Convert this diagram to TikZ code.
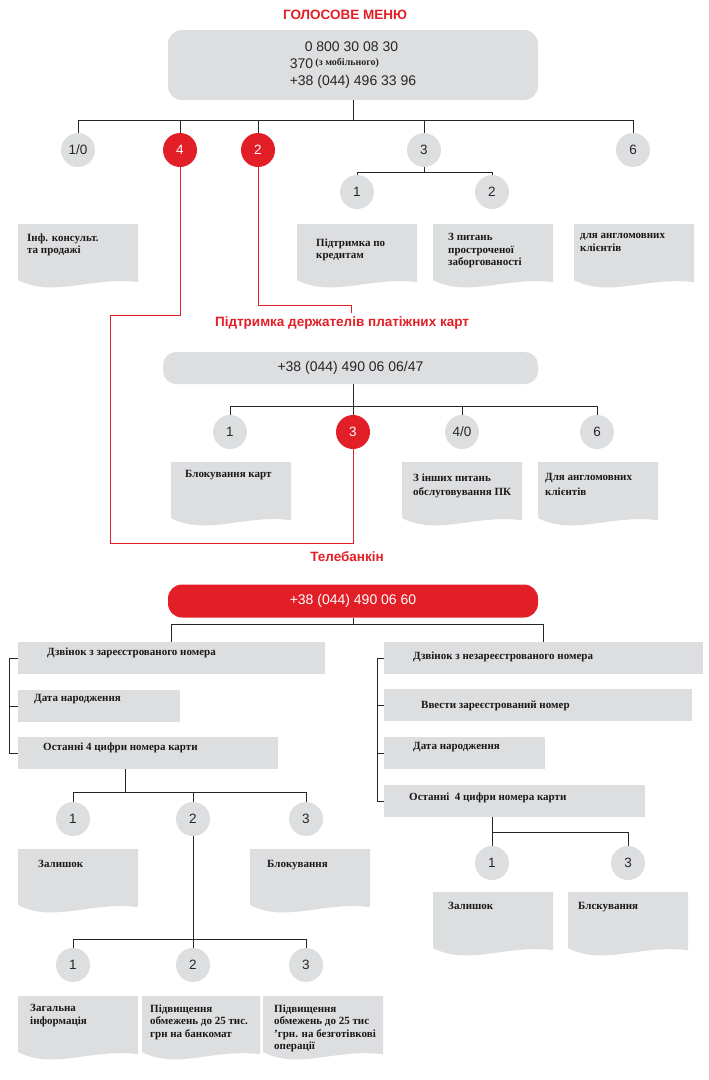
\documentclass[tikz,border=0pt]{standalone}
\usepackage{fontspec}
\setmainfont{Liberation Serif}
\setsansfont{Liberation Sans}
\usepackage{tikz}
\definecolor{tred}{RGB}{226,30,38}
\definecolor{tgray}{RGB}{221,222,224}

\begin{document}
\begin{tikzpicture}[x=1pt, y=-1pt,
 head/.style={font=\sffamily\bfseries\fontsize{13.5}{15}\selectfont, text=tred},
 phone/.style={rounded corners=14pt, fill=tgray, minimum width=370pt, inner sep=0pt, font=\sffamily\fontsize{14}{17}\selectfont, text=black!85},
 circ/.style={circle, fill=tgray, minimum size=34pt, inner sep=0pt, font=\sffamily\fontsize{13.5}{14}\selectfont, text=black!85},
 rcirc/.style={circ, fill=tred, text=white},
 doc/.style={anchor=north west, minimum width=120pt, minimum height=66pt, inner sep=0pt,
  path picture={\fill[tgray] (path picture bounding box.north west) -- (path picture bounding box.north east)
   -- ([yshift=8pt]path picture bounding box.south east)
   .. controls ([xshift=-48pt,yshift=14pt]path picture bounding box.south east) and ([xshift=36pt,yshift=-8pt]path picture bounding box.south west)
   .. ([yshift=10pt]path picture bounding box.south west) -- cycle;}},
 zone/.style={anchor=north west, fill=tgray, minimum height=32pt, inner sep=0pt},
 txt/.style={anchor=north west, align=left, inner sep=0pt, text=black!90, font=\bfseries\fontsize{11}{12.5}\selectfont},
 link/.style={draw=black!85, line width=0.9pt},
 rlink/.style={draw=tred, line width=0.8pt}]
\useasboundingbox (0,0) rectangle (709,1080);

% voice menu
\node[head] (hmenu) at (345,15) {ГОЛОСОВЕ МЕНЮ};
\node[phone, minimum height=70pt, align=left] (menu) at (353,65)
 {\hspace*{15pt}0 800 30 08 30\\370\,\raisebox{3pt}{\rmfamily\bfseries\fontsize{10}{10}\selectfont(з мобільного)}\\+38 (044) 496 33 96};
\coordinate (mbar) at (353,120);
\node[circ] (c10) at (78,150) {1/0};
\node[rcirc] (r4) at (180,150) {4};
\node[rcirc] (r2) at (258,150) {2};
\node[circ] (c3) at (424,150) {3};
\node[circ] (c6) at (633,150) {6};
\coordinate (sbar) at (424,172);
\node[circ] (s1) at (357,192) {1};
\node[circ] (s2) at (492,192) {2};
\draw[link] (menu.south) -- (mbar);
\foreach \c in {c10,r4,r2,c3,c6} \draw[link] (\c.north) |- (mbar);
\draw[link] (c3.south) -- (sbar);
\foreach \c in {s1,s2} \draw[link] (\c.north) |- (sbar);

\node[doc] (d10) at (18,224) {};
\node[txt] at ([shift={(9,9.5)}]d10.north west) {Інф. консульт.\\та продажі};
\node[doc] (ds1) at (297,224) {};
\node[txt] at ([shift={(19,14.5)}]ds1.north west) {Підтримка по\\кредитам};
\node[doc] (ds2) at (433,224) {};
\node[txt] at ([shift={(15,9.5)}]ds2.north west) {З питань\\простроченої\\заборгованості};
\node[doc] (d6) at (574,224) {};
\node[txt] at ([shift={(6,9.5)}]d6.north west) {для англомовних\\клієнтів};

% card holders
\coordinate (rj) at (351,305);
\coordinate (rk) at (110,315);
\coordinate (rl) at (110,543);
\node[head] (hcards) at (342,323) {Підтримка держателів платіжних карт};
\node[phone, minimum width=375pt, minimum height=32pt, rounded corners=13pt] (cards) at (350.5,368) {+38 (044) 490 06 06/47};
\coordinate (cbar) at (353,406);
\node[circ] (p1) at (230,432) {1};
\node[rcirc] (p3) at (353,432) {3};
\node[circ] (p40) at (462,432) {4/0};
\node[circ] (p6) at (597,432) {6};
\draw[link] (cards.south -| p3) -- (p3.north);
\foreach \c in {p1,p40,p6} \draw[link] (\c.north) |- (cbar);

\node[doc] (dp1) at (171,462) {};
\node[txt] at ([shift={(14,8)}]dp1.north west) {Блокування карт};
\node[doc] (dp40) at (402,462) {};
\node[txt] at ([shift={(11,11.5)}]dp40.north west) {З інших питань\\[2pt]обслуговування ПК};
\node[doc] (dp6) at (538,462) {};
\node[txt] at ([shift={(7,11.5)}]dp6.north west) {Для англомовних\\[2pt]клієнтів};

\draw[rlink] (r2.south) |- (rj) -- (rj |- hcards.north);
\draw[rlink] (r4.south) |- (rk) -- (rl) -| (p3.south);

% telebank
\node[head] (htele) at (347,557) {Телебанкін};
\node[phone, fill=tred, text=white, minimum height=33pt] (tele) at (353,601) {+38 (044) 490 06 60};
\coordinate (tbar) at (353,624);

\node[zone, minimum width=307pt] (lz1) at (18,642) {};
\node[txt] at ([shift={(29,5.5)}]lz1.north west) {Дзвінок з зареєстрованого номера};
\node[zone, minimum width=162pt] (lz2) at (18,690) {};
\node[txt] at ([shift={(16,4.5)}]lz2.north west) {Дата народження};
\node[zone, minimum width=260pt] (lz3) at (18,737) {};
\node[txt] at ([shift={(25,5.5)}]lz3.north west) {Останні 4 цифри номера карти};

\node[zone, minimum width=319pt] (rz1) at (384,642) {};
\node[txt] at ([shift={(29,9.5)}]rz1.north west) {Дзвінок з незареєстрованого номера};
\node[zone, minimum width=308pt] (rz2) at (384,689) {};
\node[txt] at ([shift={(37,11.5)}]rz2.north west) {Ввести зареєстрований номер};
\node[zone, minimum width=161pt] (rz3) at (384,737) {};
\node[txt] at ([shift={(29,5.5)}]rz3.north west) {Дата народження};
\node[zone, minimum width=261pt] (rz4) at (384,785) {};
\node[txt] at ([shift={(25,7.5)}]rz4.north west) {Останні\ \ 4 цифри номера карти};

\draw[link] (tele.south) -- (tbar);
\draw[link] (lz1.north) |- (tbar);
\draw[link] (rz1.north) |- (tbar);
\draw[link] (lz1.west) -- ++(-9,0) |- (lz3.west);
\draw[link] (lz2.west) -- ++(-9,0);
\draw[link] (rz1.west) -- ++(-7,0) |- (rz4.west);
\draw[link] (rz2.west) -- ++(-7,0);
\draw[link] (rz3.west) -- ++(-7,0);

% registered number
\coordinate (lbar) at (125,792);
\node[circ] (t1) at (73,819) {1};
\node[circ] (t2) at (193,819) {2};
\node[circ] (t3) at (306,819) {3};
\draw[link] (lz3.south -| lbar) -- (lbar);
\foreach \c in {t1,t2,t3} \draw[link] (\c.north) |- (lbar);
\node[doc] (dt1) at (18,849) {};
\node[txt] at ([shift={(20,11.5)}]dt1.north west) {Залишок};
\node[doc] (dt3) at (250,849) {};
\node[txt] at ([shift={(17,11.5)}]dt3.north west) {Блокування};

\coordinate (lbar2) at (193,939);
\node[circ] (u1) at (73,965) {1};
\node[circ] (u2) at (193,965) {2};
\node[circ] (u3) at (306,965) {3};
\draw[link] (t2.south) -- (lbar2);
\foreach \c in {u1,u2,u3} \draw[link] (\c.north) |- (lbar2);
\node[doc] (du1) at (18,996) {};
\node[txt] at ([shift={(12,8.5)}]du1.north west) {Загальна\\інформація};
\node[doc, minimum width=118pt] (du2) at (142,996) {};
\node[txt] at ([shift={(8,8.5)}]du2.north west) {Підвищення\\обмежень до 25 тис.\\грн на банкомат};
\node[doc] (du3) at (263,996) {};
\node[txt] at ([shift={(11,8.5)}]du3.north west) {Підвищення\\обмежень до 25 тис\\’грн. на безготівкові\\операції};

% unregistered number
\coordinate (rbar) at (492,832);
\node[circ] (v1) at (492,863) {1};
\node[circ] (v3) at (628,863) {3};
\draw[link] (rz4.south -| v1) -- (v1.north);
\draw[link] (v3.north) |- (rbar);
\node[doc] (dv1) at (433,892) {};
\node[txt] at ([shift={(15,10.5)}]dv1.north west) {Залишок};
\node[doc] (dv3) at (568,892) {};
\node[txt] at ([shift={(10,10.5)}]dv3.north west) {Блскування};
\end{tikzpicture}
\end{document}
